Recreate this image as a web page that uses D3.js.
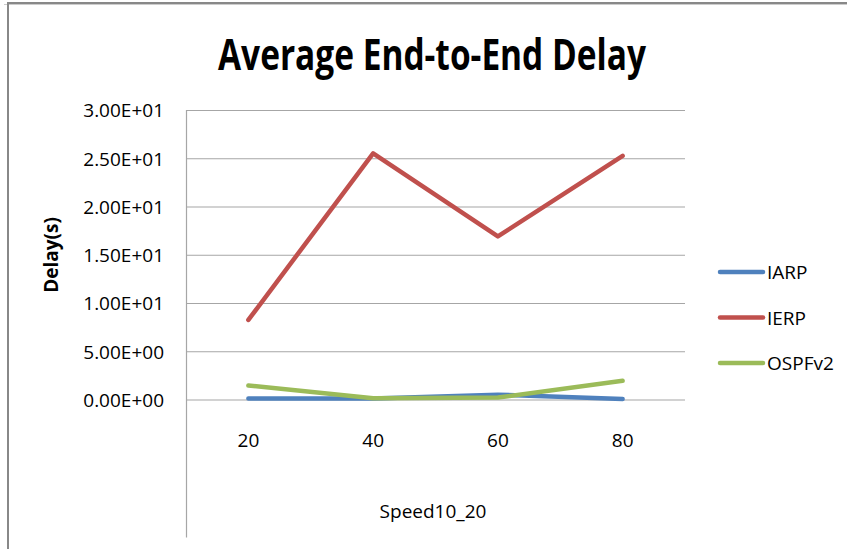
<!DOCTYPE html>
<html lang="en">
<head>
    <meta charset="UTF-8">
    <title>Average End-to-End Delay</title>
    <script src="https://d3js.org/d3.v7.min.js"></script>
    <style>
        body { margin: 0; background: #fff; }
        svg { display: block; }
        .axis text { font-family: "Open Sans", "Noto Sans", sans-serif; font-size: 19px; fill: #000; }
        .grid line { stroke: #a6a6a6; stroke-width: 1.2px; }
        .legend text { font-family: "Open Sans", "Noto Sans", sans-serif; font-size: 19px; fill: #000; }
    </style>
</head>
<body>
    <div id="chart-container"></div>

    <script>
        // data
        const speeds = ["20", "40", "60", "80"];
        const iarp = [0.1, 0.1, 0.5, 0.05];
        const ierp = [8.25, 25.5, 16.9, 25.25];
        const ospfv2 = [1.45, 0.12, 0.2, 1.95];
        const yTicks = [0, 5, 10, 15, 20, 25, 30];
        const seriesNames = ["IARP", "IERP", "OSPFv2"];
        const seriesColors = ["#4f81bd", "#c0504d", "#9bbb59"];

        const containerWidth = 847;
        const containerHeight = 549;
        const margins = { top: 110, left: 186 };
        const width = 499;
        const height = 289.5;

        const root = d3.select("#chart-container")
            .append("svg")
            .attr("width", containerWidth)
            .attr("height", containerHeight);

        // outer frame (top and left edge)
        root.append("line")
            .attr("x1", 7).attr("x2", containerWidth).attr("y1", 3).attr("y2", 3)
            .attr("stroke", "#888").attr("stroke-width", 2);
        root.append("line")
            .attr("x1", 4).attr("x2", containerWidth).attr("y1", 4.5).attr("y2", 4.5)
            .attr("stroke", "#ccc").attr("stroke-width", 1);
        root.append("line")
            .attr("x1", 8).attr("x2", 8).attr("y1", 2).attr("y2", containerHeight)
            .attr("stroke", "#888").attr("stroke-width", 2);

        const svg = root.append("g")
            .attr("transform", `translate(${margins.left},${margins.top})`);

        const x = d3.scaleBand()
            .domain(speeds)
            .range([0, width]);

        const y = d3.scaleLinear()
            .domain([0, 30])
            .range([height, 0]);

        // E-notation like Excel, e.g. 2.50E+01
        function sciFormat(v) {
            const parts = v.toExponential(2).toUpperCase().split("E");
            const sign = parts[1][0];
            const exp = parts[1].slice(1).padStart(2, "0");
            return parts[0] + "E" + sign + exp;
        }

        // gridlines + y labels
        const yAxis = svg.append("g")
            .attr("class", "axis grid")
            .call(d3.axisLeft(y).tickValues(yTicks).tickSize(-width).tickPadding(22).tickFormat(sciFormat));
        yAxis.select(".domain").remove();
        yAxis.selectAll("text").attr("dy", "0.36em");

        // vertical axis line, runs down past the plot like the original
        svg.append("line")
            .attr("x1", 0.5).attr("x2", 0.5)
            .attr("y1", y(30)).attr("y2", height + 138)
            .attr("stroke", "#a6a6a6").attr("stroke-width", 1.2);

        // x labels
        const xAxis = svg.append("g")
            .attr("class", "axis")
            .attr("transform", `translate(0,${height})`)
            .call(d3.axisBottom(x).tickSize(0).tickPadding(34));
        xAxis.select(".domain").remove();

        // lines
        const allSeries = [iarp, ierp, ospfv2];
        const line = d3.line()
            .x((d, i) => x(speeds[i]) + x.bandwidth() / 2)
            .y(d => y(d));

        allSeries.forEach(function(vals, k) {
            svg.append("path")
                .datum(vals)
                .attr("fill", "none")
                .attr("stroke", seriesColors[k])
                .attr("stroke-width", 4.5)
                .attr("stroke-linejoin", "round")
                .attr("stroke-linecap", "round")
                .attr("d", line);
        });

        // title and axis titles
        root.append("text")
            .attr("x", 432)
            .attr("y", 70)
            .attr("text-anchor", "middle")
            .attr("textLength", 428)
            .attr("lengthAdjust", "spacingAndGlyphs")
            .style("font-family", "'Open Sans', 'Noto Sans', sans-serif")
            .style("font-weight", "bold")
            .style("font-size", "43px")
            .text("Average End-to-End Delay");

        root.append("text")
            .attr("x", 433)
            .attr("y", 518)
            .attr("text-anchor", "middle")
            .style("font-family", "'Open Sans', 'Noto Sans', sans-serif")
            .style("font-size", "19px")
            .text("Speed10_20");

        root.append("text")
            .attr("transform", "translate(58,255) rotate(-90)")
            .attr("text-anchor", "middle")
            .style("font-family", "'Open Sans', 'Noto Sans', sans-serif")
            .style("font-weight", "bold")
            .style("font-size", "19px")
            .text("Delay(s)");

        // legend
        const legendY = d3.scalePoint().domain(seriesNames).range([272, 363]);
        const legend = root.append("g").attr("class", "legend");
        seriesNames.forEach(function(name, k) {
            legend.append("line")
                .attr("x1", 720).attr("x2", 763)
                .attr("y1", legendY(name)).attr("y2", legendY(name))
                .attr("stroke", seriesColors[k])
                .attr("stroke-width", 4.5)
                .attr("stroke-linecap", "round");
            legend.append("text")
                .attr("x", 767)
                .attr("y", legendY(name) + 7)
                .text(name);
        });
    </script>
</body>
</html>
